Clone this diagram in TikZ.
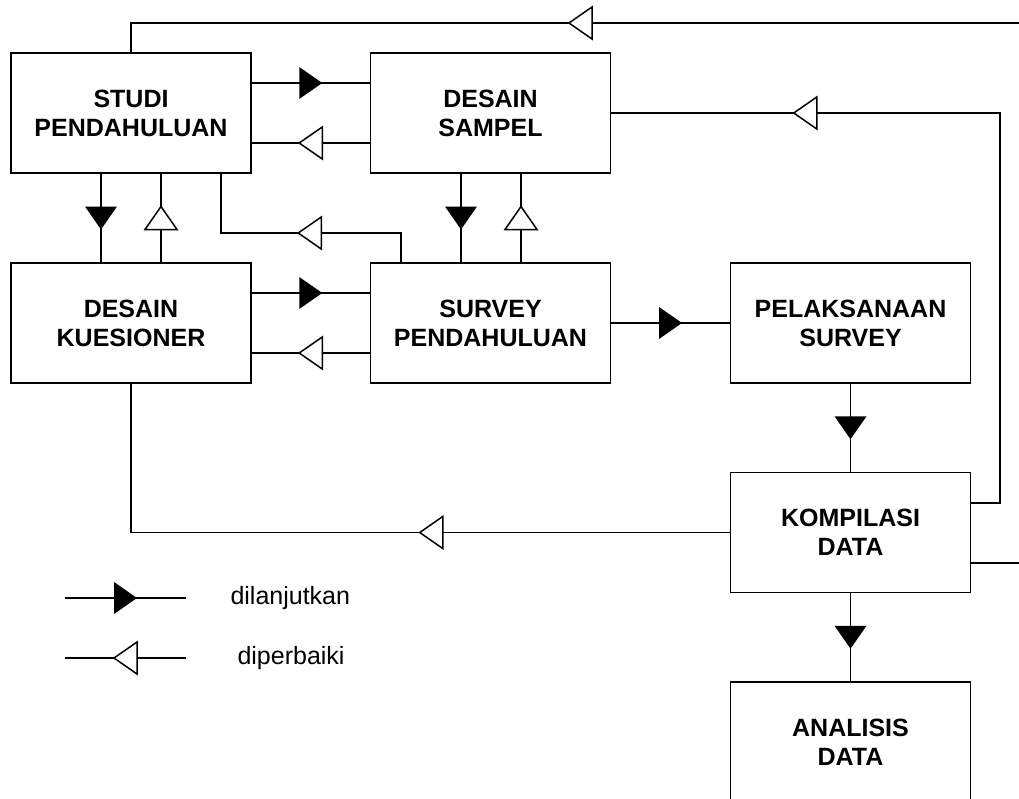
\documentclass[tikz,border=0pt]{standalone}
\usepackage{fontspec}
\setmainfont{Liberation Sans}
\usepackage{tikz}
\usetikzlibrary{decorations.markings}

\tikzset{
  box/.style={draw,line width=1.5pt,minimum width=240pt,minimum height=120pt,
    inner sep=0pt,align=center,font=\bfseries\fontsize{25}{29}\selectfont},
  go/.style={line width=1.5pt,postaction={decorate},decoration={markings,
    mark=at position #1 with {\fill (-11.5pt,16pt) -- (11.5pt,0pt) -- (-11.5pt,-16pt) -- cycle;}}},
  go/.default=0.5,
  back/.style={line width=1.5pt,postaction={decorate},decoration={markings,
    mark=at position #1 with {\filldraw[fill=white,line width=1.5pt] (-11.5pt,16pt) -- (11.5pt,0pt) -- (-11.5pt,-16pt) -- cycle;}}},
  back/.default=0.5,
  legend/.style={anchor=west,font=\fontsize{25}{29}\selectfont}
}

\begin{document}
\begin{tikzpicture}[x=1pt,y=-1pt]
  \useasboundingbox (0,0) rectangle (1019,798);
  \node[box] (studi) at (131,113) {STUDI\\PENDAHULUAN};
  \node[box] (sampel) at (490.5,113) {DESAIN\\SAMPEL};
  \node[box] (kues) at (131,323) {DESAIN\\KUESIONER};
  \node[box] (surv) at (490.5,323) {SURVEY\\PENDAHULUAN};
  \node[box] (pelak) at (850.5,323) {PELAKSANAAN\\SURVEY};
  \node[box] (komp) at (850.5,532.5) {KOMPILASI\\DATA};
  \node[box] (anal) at (850.5,742) {ANALISIS\\DATA};
  \coordinate (topend) at (1019,23);
  \coordinate (kompout) at (1019,563);

  % dilanjutkan
  \draw[go] (studi.east |- 0,83) -- (sampel.west |- 0,83);
  \draw[go] (studi.south -| 101,0) -- (kues.north -| 101,0);
  \draw[go] (sampel.south -| 461,0) -- (surv.north -| 461,0);
  \draw[go] (kues.east |- 0,293) -- (surv.west |- 0,293);
  \draw[go] (surv.east) -- (pelak.west);
  \draw[go] (pelak.south) -- (komp.north);
  \draw[go] (komp.south) -- (anal.north);

  % diperbaiki
  \draw[back] (sampel.west |- 0,143) -- (studi.east |- 0,143);
  \draw[back] (kues.north -| 161,0) -- (studi.south -| 161,0);
  \draw[back] (surv.north -| 521,0) -- (sampel.south -| 521,0);
  \draw[back] (surv.west |- 0,353) -- (kues.east |- 0,353);
  \draw[back=120.5pt] (surv.north -| 401,0) -- (401,233) -- (221,233) -- (studi.south -| 221,0);
  \draw[back=613.5pt] (komp.east |- 0,503) -- (1000,503) -- (1000,113) -- (sampel.east);
  \draw[back=298.5pt] (komp.west) -| (kues.south);
  \draw[back=438.5pt] (topend) -| (studi.north);
  \draw[line width=1.5pt] (komp.east |- kompout) -- (kompout);

  % keterangan
  \coordinate (la) at (65,598);
  \coordinate (lb) at (186,598);
  \coordinate (lc) at (65,658);
  \coordinate (ld) at (186,658);
  \draw[go] (la) -- (lb);
  \draw[back] (ld) -- (lc);
  \node[legend] (lgo) at (227,598) {dilanjutkan};
  \node[legend] (lback) at (234,658) {diperbaiki};
\end{tikzpicture}
\end{document}
